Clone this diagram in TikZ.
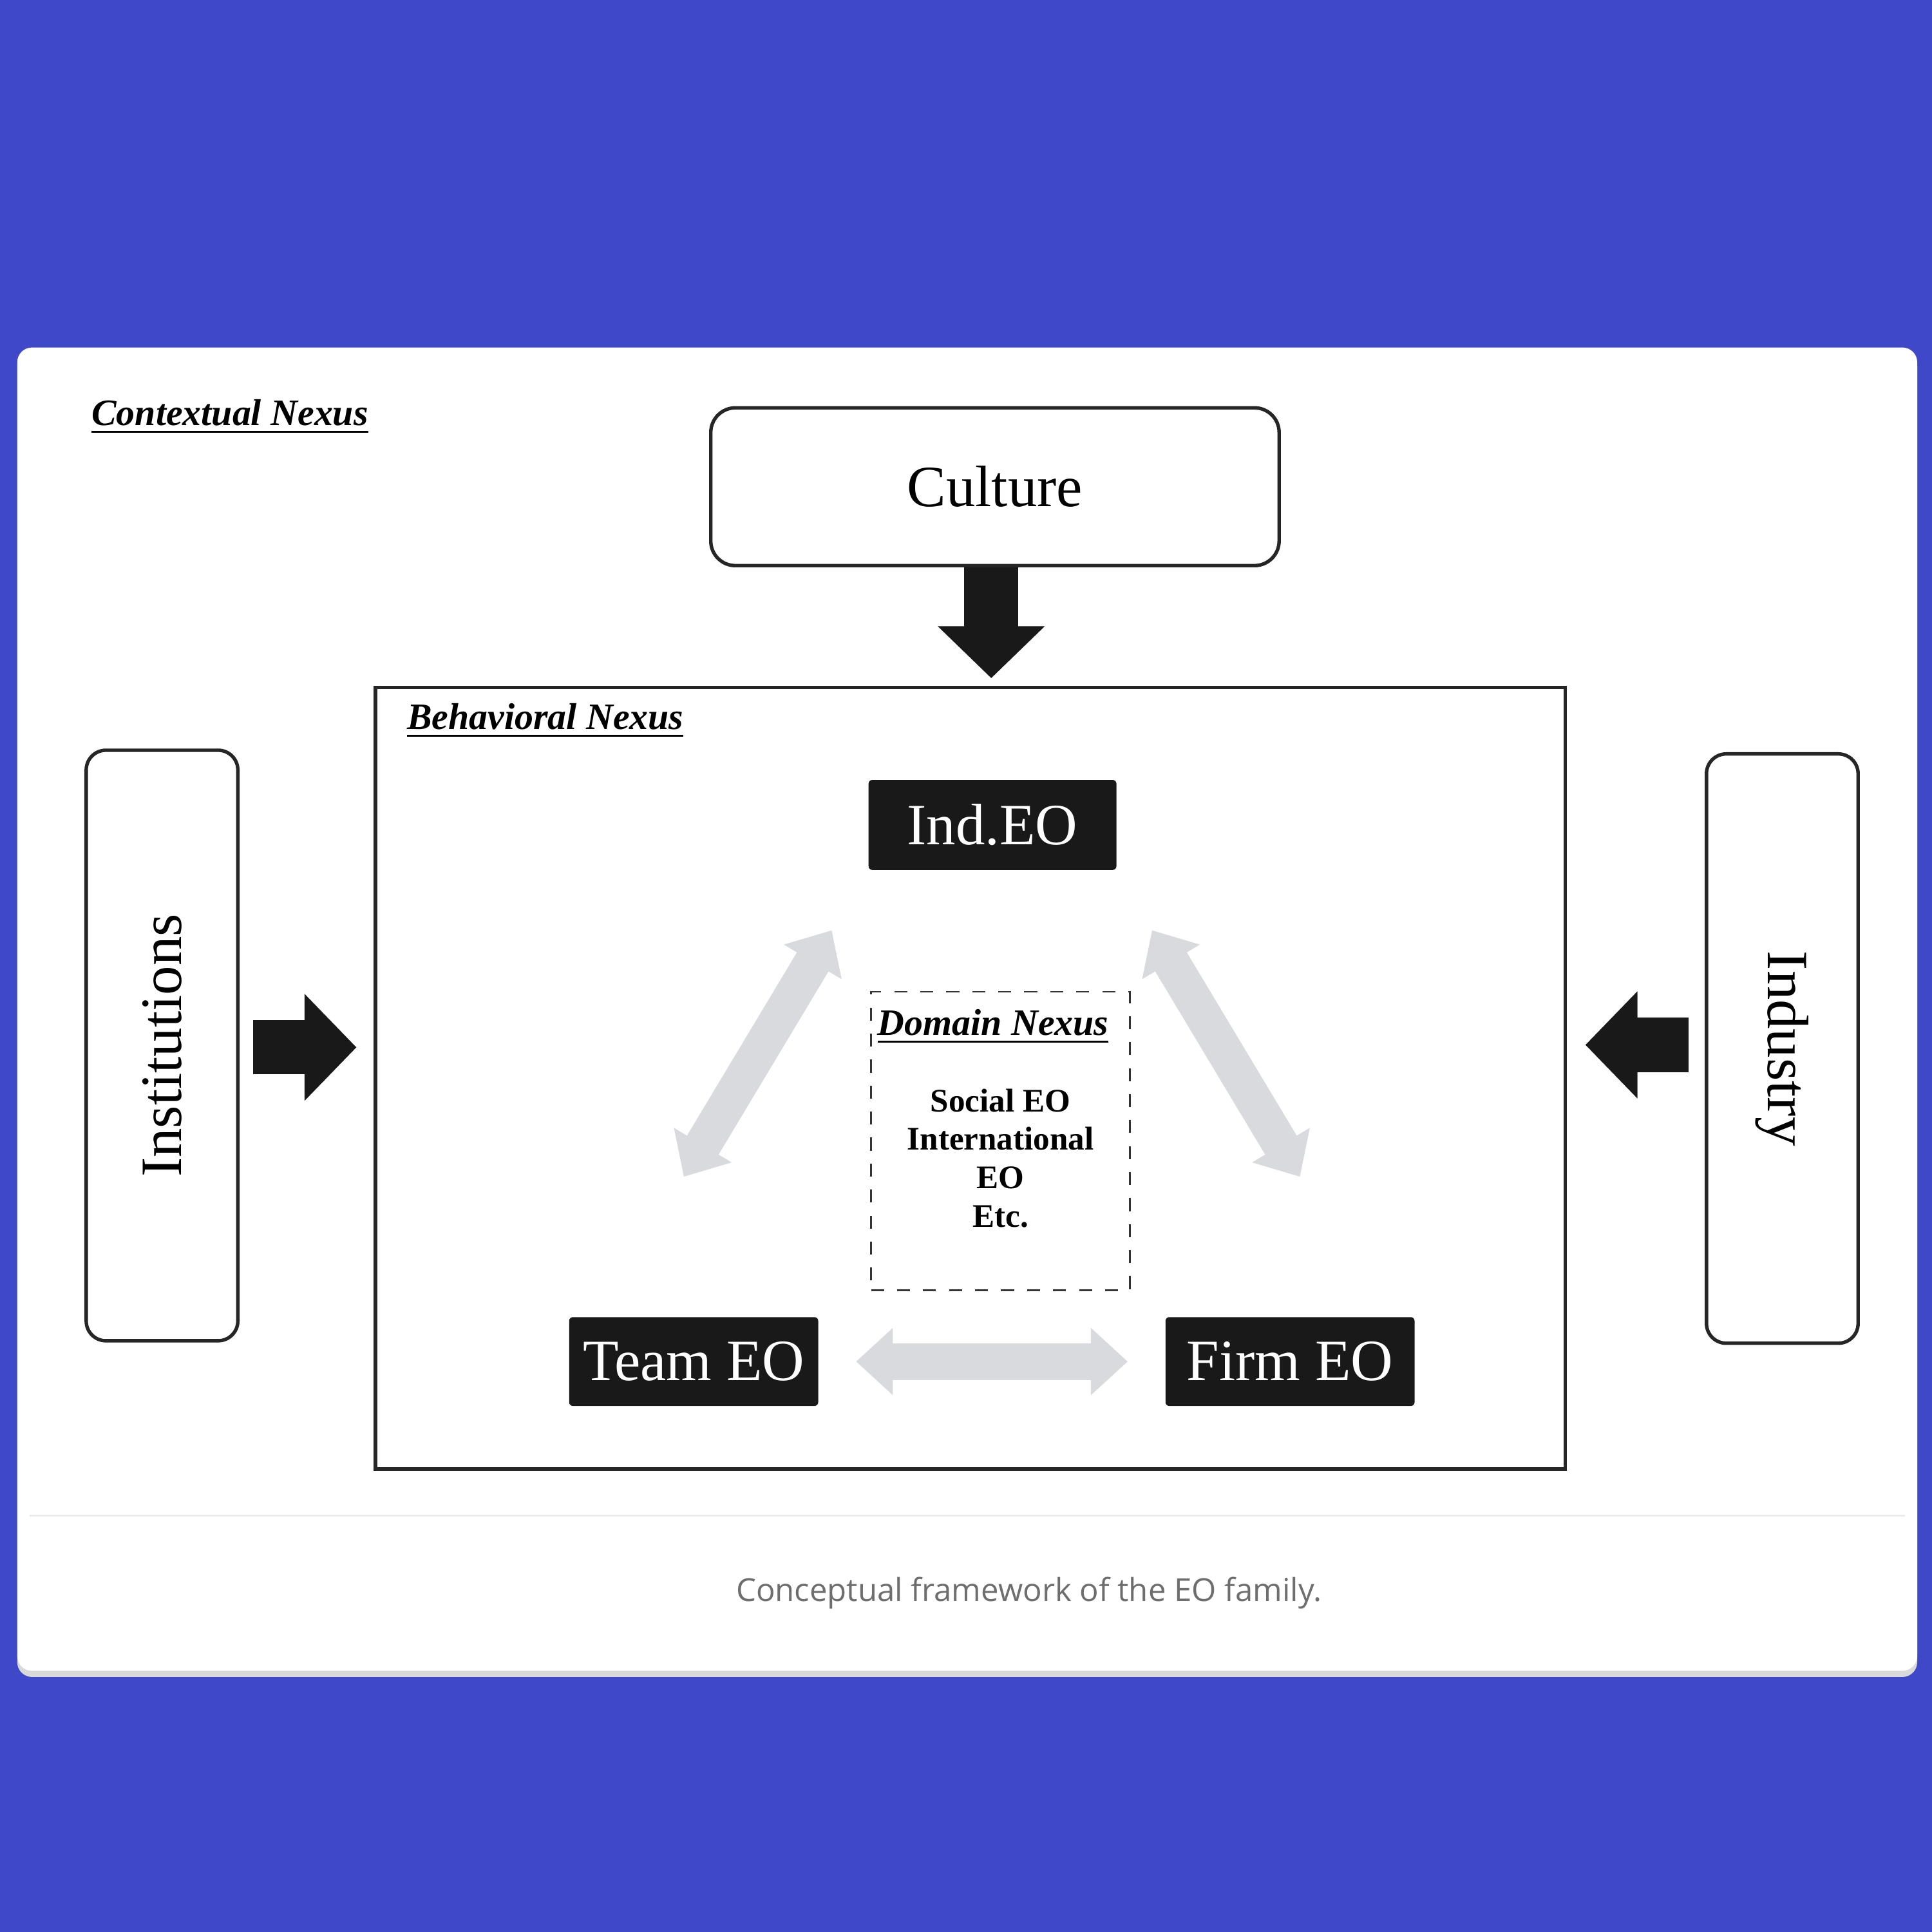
\documentclass[tikz,border=0pt]{standalone}
\usepackage{fontspec}
\setmainfont{Liberation Serif}
\newfontfamily\capfont{Open Sans}
\usetikzlibrary{arrows.meta,calc}
\definecolor{bgblue}{RGB}{63,72,200}
\definecolor{softgray}{RGB}{217,218,221}
\definecolor{capgray}{RGB}{110,110,110}
\tikzset{
  ctxbox/.style={draw=black!85, thick, rounded corners=0.2cm, fill=white},
  eobox/.style={fill=black!90, rounded corners=0.03cm, text=white, font=\fontsize{13.5}{15}\selectfont, inner sep=0},
  nexus/.style={font=\fontsize{8.6}{10}\selectfont\bfseries\itshape, anchor=base west},
  bigarrow/.style={line width=12.5pt, black!90, -{Triangle[width=24pt, length=12pt]}},
  softarrow/.style={line width=8.5pt, softgray, {Triangle[width=15pt, length=8.5pt]}-{Triangle[width=15pt, length=8.5pt]}}
}
\begin{document}
\begin{tikzpicture}[x=0.01cm, y=-0.01cm]
        \useasboundingbox (0,0) rectangle (1568,1568);
        \fill[bgblue] (0,0) rectangle (1568,1568);
        \fill[black!15, rounded corners=0.12cm] (14,285) rectangle (1556,1361);
        \fill[white, rounded corners=0.12cm] (14,282) rectangle (1556,1356);
        \draw[black!8] (24,1230) -- (1546,1230);
        \node[font=\capfont\fontsize{7.3}{9}\selectfont, text=capgray] (caption) at (835,1293) {Conceptual framework of the EO family.};

        % contextual nexus
        \node[nexus] (ctxlabel) at (62,345) {\underline{Contextual Nexus}};
        \node[ctxbox, minimum width=4.61cm, minimum height=1.28cm, font=\fontsize{13.5}{15}\selectfont] (culture) at (807.5,395) {Culture};
        \node[ctxbox, minimum width=1.23cm, minimum height=4.79cm, rounded corners=0.16cm] (inst) at (131.5,848.5) {};
        \node[rotate=90, font=\fontsize{13.5}{15}\selectfont] at (inst.center) {Institutions};
        \node[ctxbox, minimum width=1.23cm, minimum height=4.78cm, rounded corners=0.16cm] (industry) at (1446.5,851) {};
        \node[rotate=-90, font=\fontsize{13.5}{15}\selectfont] at (industry.center) {Industry};

        % behavioral nexus
        \node[draw=black!85, thick, minimum width=9.65cm, minimum height=6.34cm] (behav) at (787.5,875) {};
        \node[nexus] (behlabel) at (318,592) {\underline{Behavioral Nexus}};
        \draw[bigarrow, shorten >=0.06cm] ($(culture.south)+(-3,0)$) coordinate (cs) -- (cs |- behav.north);
        \draw[bigarrow] ($(inst.east)+(11,1.5)$) -- ($(behav.west)+(-14,-25)$);
        \draw[bigarrow] ($(industry.west)+(-13,-3)$) -- ($(behav.east)+(15,-27)$);

        \node[eobox, minimum width=2.01cm, minimum height=0.73cm] (ind) at (805.5,669.5) {Ind.EO};
        \node[eobox, minimum width=2.02cm, minimum height=0.72cm] (team) at (563,1105) {Team EO};
        \node[eobox, minimum width=2.02cm, minimum height=0.72cm] (firm) at (1047,1105) {Firm EO};

        % domain nexus
        \node[draw=black!80, dashed, minimum width=2.10cm, minimum height=2.42cm] (domain) at (812,926) {};
        \node[nexus, anchor=base] at (806,840) {\underline{Domain Nexus}};
        \node[align=center, font=\fontsize{7.6}{8.9}\selectfont\bfseries] (dlist) at (812,940) {Social EO\\International\\EO\\Etc.};

        \draw[softarrow] ($(team.east)+(30,0)$) -- ($(firm.west)+(-30,0)$);
        \draw[softarrow] (675,755) -- (555,955);
        \draw[softarrow] (935,755) -- (1055,955);
\end{tikzpicture}
\end{document}
